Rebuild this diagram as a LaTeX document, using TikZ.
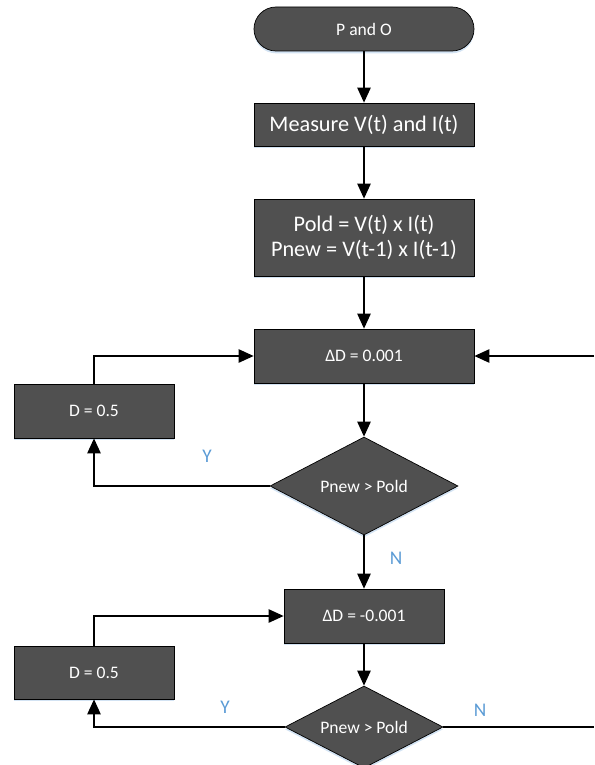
\documentclass[tikz,border=0pt]{standalone}
\usepackage{fontspec}
\setmainfont{Carlito}
\usetikzlibrary{arrows.meta,shapes.geometric,shadows}
\definecolor{boxgray}{RGB}{80,80,80}
\definecolor{shadowblue}{RGB}{200,220,240}
\definecolor{labelblue}{RGB}{91,155,213}
\begin{document}
\begin{tikzpicture}[x=0.03cm,y=-0.03cm,
    base/.style={draw=black,line width=0.6pt,fill=boxgray,text=white,inner sep=0pt,
      drop shadow={shadow xshift=0pt,shadow yshift=-0.7mm,fill=shadowblue,opacity=0.8}},
    bigtext/.style={font=\fontsize{19}{21.5}\selectfont,align=center},
    smalltext/.style={font=\fontsize{15}{17}\selectfont},
    startbox/.style={base,smalltext,rectangle,rounded corners=0.66cm,minimum width=6.6cm,minimum height=1.32cm},
    procbox/.style={base,rectangle,minimum width=#1},
    decbox/.style={base,smalltext,diamond,aspect=1.92},
    flow/.style={line width=1.3pt,-{Triangle[length=0.45cm,width=0.4cm]}},
    plain/.style={line width=1.3pt},
    yn/.style={text=labelblue,font=\fontsize{16.5}{18}\selectfont}]
  \useasboundingbox (0,0) rectangle (594,765);
  % main column
  \node[startbox] (start) at (364,29) {P and O};
  \node[procbox=6.6cm,bigtext,minimum height=1.29cm] (measure) at (364,124.5) {Measure V(t) and I(t)};
  \node[procbox=6.6cm,bigtext,minimum height=2.31cm] (power) at (364,237.5) {Pold = V(t) x I(t)\\Pnew = V(t-1) x I(t-1)};
  \node[procbox=6.6cm,smalltext,minimum height=1.62cm] (incr) at (364,356) {ΔD = 0.001};
  \node[decbox,minimum width=5.64cm,minimum height=2.94cm] (cmpa) at (364,486) {Pnew > Pold};
  \node[procbox=4.8cm,smalltext,minimum height=1.62cm] (decr) at (364,616) {ΔD = -0.001};
  \node[decbox,minimum width=4.74cm,minimum height=2.46cm] (cmpb) at (364,727) {Pnew > Pold};
  % reset boxes on the left
  \node[procbox=4.8cm,smalltext,minimum height=1.62cm] (reseta) at (94,411) {D = 0.5};
  \node[procbox=4.8cm,smalltext,minimum height=1.59cm] (resetb) at (94,672.5) {D = 0.5};
  % loose ends at the right edge
  \coordinate (backin) at (594,356);
  \coordinate (outb) at (594,727);
  % connectors
  \draw[flow] (start) -- (measure);
  \draw[flow] (measure) -- (power);
  \draw[flow] (power) -- (incr);
  \draw[flow] (incr) -- (cmpa);
  \draw[flow] (cmpa) -- (decr);
  \draw[flow] (decr) -- (cmpb);
  \draw[flow] (cmpa.west) -| (reseta.south);
  \draw[flow] (reseta.north) |- (incr.west);
  \draw[flow] (cmpb.west) -| (resetb.south);
  \draw[flow] (resetb.north) |- (decr.west);
  \draw[flow] (backin) -- (incr.east);
  \draw[plain] (cmpb.east) -- (outb);
  % branch labels
  \node[yn] (ya) at (207,456) {Y};
  \node[yn] (na) at (396,558) {N};
  \node[yn] (yb) at (225,707) {Y};
  \node[yn] (nb) at (480,710) {N};
\end{tikzpicture}
\end{document}
